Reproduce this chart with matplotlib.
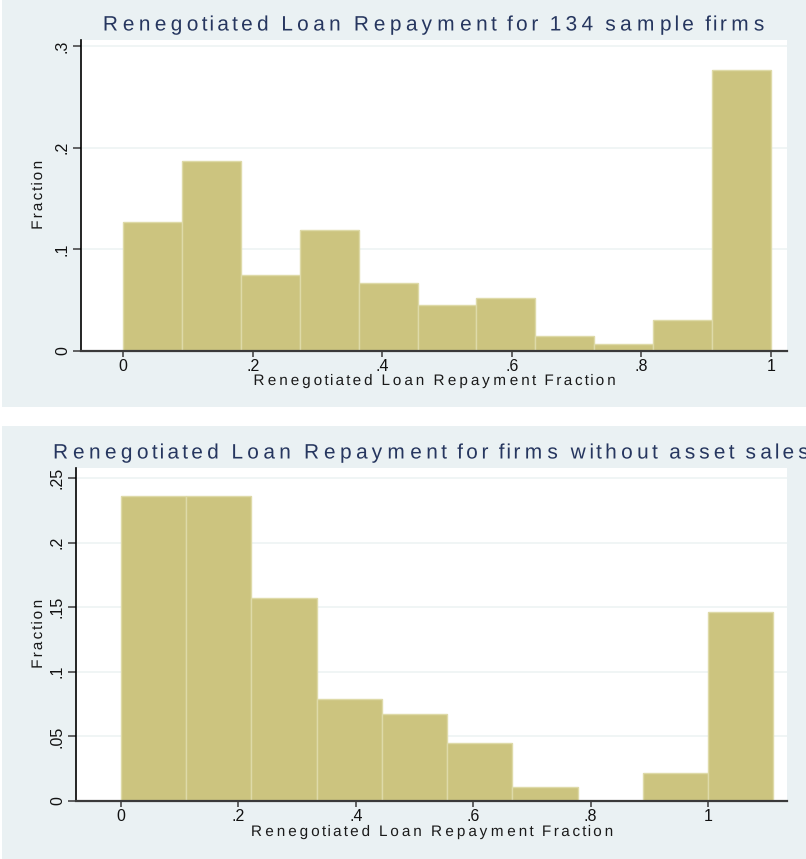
import numpy as np
import matplotlib
matplotlib.use("Agg")
import matplotlib.pyplot as plt
from matplotlib.patches import Rectangle
from matplotlib.path import Path
from matplotlib.patheffects import AbstractPathEffect

# ---- data: fraction of firms in each repayment-fraction bin ----
all_bin_width = 1 / 11
all_fractions = [0.127, 0.187, 0.075, 0.119, 0.067, 0.045,
                 0.052, 0.015, 0.007, 0.030, 0.276]

nosale_bin_width = 1 / 9
nosale_fractions = [0.236, 0.236, 0.157, 0.079, 0.067,
                    0.045, 0.011, 0.000, 0.022, 0.146]

top_title = "Renegotiated Loan Repayment for 134 sample firms"
bottom_title = "Renegotiated Loan Repayment for firms without asset sales"
x_label = "Renegotiated Loan Repayment Fraction"
y_label = "Fraction"

x_ticks = [0, 0.2, 0.4, 0.6, 0.8, 1.0]
x_tick_labels = ["0", ".2", ".4", ".6", ".8", "1"]
top_y_ticks = [0, 0.1, 0.2, 0.3]
top_y_tick_labels = ["0", ".1", ".2", ".3"]
bottom_y_ticks = [0, 0.05, 0.10, 0.15, 0.20, 0.25]
bottom_y_tick_labels = ["0", ".05", ".1", ".15", ".2", ".25"]

# ---- style ----
PANEL = "#EAF1F3"
BAR = "#CCC47F"
BAR_EDGE = "#DEDAA8"
GRID = "#EDF3F4"
TITLE_C = "#26365F"
FONT = "Liberation Sans"
plt.rcParams["font.family"] = [FONT, "DejaVu Sans"]


class Tracking(AbstractPathEffect):
    """Spread the glyphs of a text apart (letter spacing) around its centre."""

    def __init__(self, factor):
        super().__init__()
        self.factor = factor

    def draw_path(self, renderer, gc, tpath, affine, rgbFace=None):
        codes = tpath.codes
        verts = np.array(tpath.vertices, dtype=float)
        if codes is None or len(verts) == 0:
            renderer.draw_path(gc, tpath, affine, rgbFace)
            return
        real = codes != Path.CLOSEPOLY
        starts = np.flatnonzero(codes == Path.MOVETO)
        ends = np.append(starts[1:], len(verts))
        spans = []
        for s, e in zip(starts, ends):
            xs = verts[s:e, 0][real[s:e]]
            spans.append((xs.min(), xs.max()))
        order = np.argsort([a for a, _ in spans])
        groups = []
        for i in order:
            a, b = spans[i]
            if groups:
                ga, gb, members = groups[-1]
                overlap = min(b, gb) - max(a, ga)
                if overlap > 0.5 * max(1e-9, min(b - a, gb - ga)):
                    groups[-1] = [ga, max(gb, b), members + [i]]
                    continue
            groups.append([a, b, [i]])
        xs_all = verts[real, 0]
        xmid = 0.5 * (xs_all.min() + xs_all.max())
        for ga, gb, members in groups:
            shift = (self.factor - 1) * (0.5 * (ga + gb) - xmid)
            for i in members:
                verts[starts[i]:ends[i], 0] += shift
        renderer.draw_path(gc, Path(verts, codes), affine, rgbFace)


W, H = 806, 859
fig = plt.figure(figsize=(W / 100, H / 100), dpi=100)
fig.patch.set_facecolor("white")


def fx(px):
    return px / W


def fy(py):
    return 1 - py / H


# panel backgrounds
fig.add_artist(Rectangle((fx(2), fy(407)), 1 - fx(2), 407 / H,
                         transform=fig.transFigure, facecolor=PANEL,
                         edgecolor="none", zorder=0))
fig.add_artist(Rectangle((fx(2), 0), 1 - fx(2), fy(426),
                         transform=fig.transFigure, facecolor=PANEL,
                         edgecolor="none", zorder=0))


def panel(box, fractions, width, yticks, ylabels, xlim, ylim,
          title, title_y, title_track, xlab_y, ylab_x):
    left, top, right, bottom = box
    ax = fig.add_axes([fx(left), fy(bottom), fx(right - left),
                       (bottom - top) / H])
    ax.set_facecolor("white")
    edges = np.arange(len(fractions)) * width
    ax.bar(edges, fractions, width=width, align="edge", color=BAR,
           edgecolor=BAR_EDGE, linewidth=1.0, zorder=2)
    for y in yticks[1:]:
        ax.axhline(y, color=GRID, lw=1.2, zorder=1)
    ax.set_xlim(*xlim)
    ax.set_ylim(*ylim)
    ax.set_xticks(x_ticks, x_tick_labels)
    ax.set_yticks(yticks, ylabels)
    for lab in ax.get_yticklabels():
        lab.set_rotation(90)
        lab.set_va("center")
    ax.tick_params(axis="y", direction="out", length=6, width=1.1,
                   color="#3A3A3A", pad=2, labelsize=11.5, labelcolor="#111111")
    ax.tick_params(axis="x", direction="out", length=4, width=1.1,
                   color="#3A3A3A", pad=2, labelsize=11.5, labelcolor="#111111")
    for s in ("top", "right"):
        ax.spines[s].set_visible(False)
    ax.spines["left"].set_color("#000000")
    ax.spines["left"].set_linewidth(1.2)
    ax.spines["bottom"].set_color("#3A3A3A")
    ax.spines["bottom"].set_linewidth(1.6)

    cx = 0.5 * (left + right)
    fig.text(fx(cx), fy(title_y), title, ha="center", va="center",
             fontsize=15, color=TITLE_C,
             path_effects=[Tracking(title_track)])
    fig.text(fx(cx), fy(xlab_y), x_label, ha="center", va="center",
             fontsize=11, color="#1A1A1A",
             path_effects=[Tracking(1.35)])
    fig.text(fx(ylab_x), fy(0.5 * (top + bottom)), y_label, ha="center",
             va="center", rotation=90, fontsize=11, color="#1A1A1A",
             path_effects=[Tracking(1.3)])
    return ax


ax1 = panel((81, 40, 787, 351), all_fractions, all_bin_width,
            top_y_ticks, top_y_tick_labels,
            (-0.065, 1.025), (0, 0.3058),
            top_title, 25, 1.38, 381, 38)
ax2 = panel((76, 468, 787, 801), nosale_fractions, nosale_bin_width,
            bottom_y_ticks, bottom_y_tick_labels,
            (-0.0767, 1.1346), (0, 0.2577),
            bottom_title, 453, 1.38, 832, 38)

fig.savefig("out.png", dpi=100, facecolor=fig.get_facecolor())
